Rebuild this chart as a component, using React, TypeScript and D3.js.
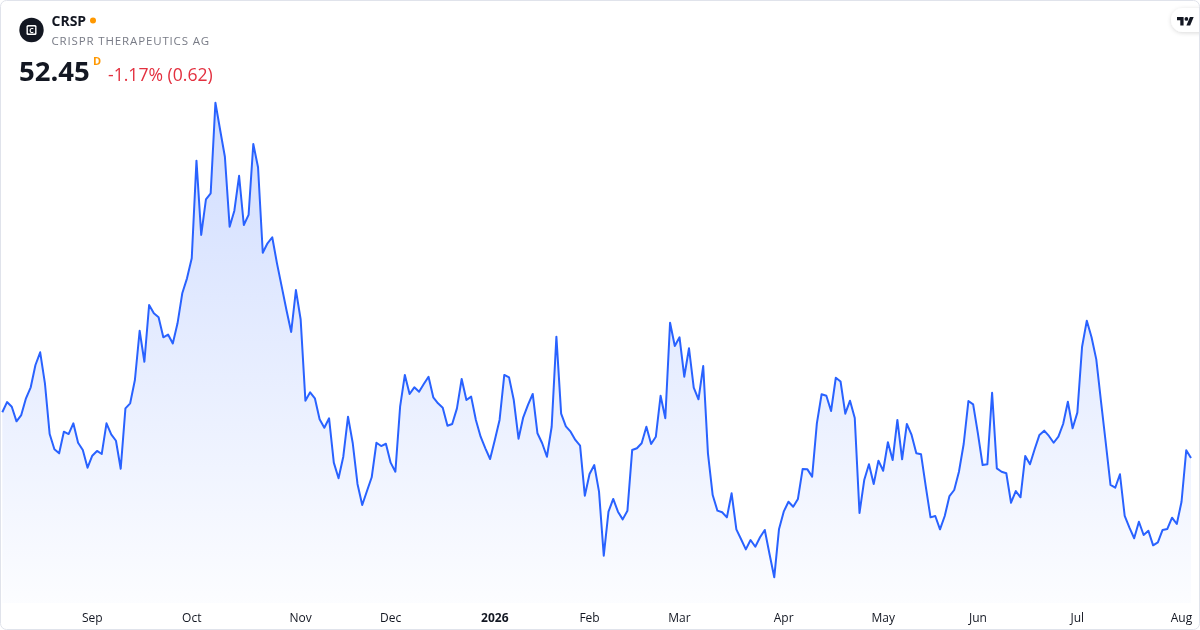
import React from "react";
import * as d3 from "d3";

// ---- data -------------------------------------------------------------
const ticker = "CRSP";
const companyName = "CRISPR THERAPEUTICS AG";
const lastPrice = "52.45";
const changeText = "-1.17% (0.62)";
const intervalLabel = "D";

const startDate = "2025-08-05";
const marketHolidays = [
  "2025-09-01", "2025-11-27", "2025-12-25", "2026-01-01", "2026-01-19",
  "2026-02-16", "2026-04-03", "2026-05-25", "2026-06-19", "2026-07-03",
];

const closes = [
  56.08, 56.89, 56.52, 55.36, 55.86, 57.19, 58.06, 59.83, 60.84, 58.38,
  54.35, 53.14, 52.82, 54.54, 54.35, 55.20, 53.66, 53.08, 51.68, 52.63,
  53.01, 52.77, 55.20, 54.33, 53.82, 51.60, 56.39, 56.79, 58.64, 62.55,
  60.09, 64.59, 63.93, 63.62, 62.03, 62.25, 61.54, 63.14, 65.52, 66.71,
  68.30, 76.05, 70.15, 72.98, 73.46, 80.65, 78.48, 76.36, 70.81, 72.08,
  74.85, 70.94, 71.74, 77.37, 75.52, 68.74, 69.49, 69.97, 67.90, 66.05,
  64.20, 62.45, 65.78, 63.44, 57.00, 57.66, 57.19, 55.52, 54.85, 55.60,
  52.08, 50.84, 52.55, 55.73, 53.62, 50.39, 48.72, 49.83, 50.92, 53.66,
  53.40, 53.58, 52.08, 51.36, 56.52, 59.04, 57.53, 58.06, 57.71, 58.32,
  58.90, 57.27, 56.79, 56.44, 55.01, 55.15, 56.39, 58.72, 57.05, 57.32,
  55.47, 54.14, 53.22, 52.37, 53.88, 55.47, 59.04, 58.85, 57.05, 53.98,
  55.68, 56.66, 57.53, 54.41, 53.62, 52.55, 54.93, 62.08, 55.97, 54.96,
  54.54, 53.88, 53.43, 49.46, 51.18, 51.89, 49.78, 44.70, 48.19, 49.20,
  48.19, 47.58, 48.27, 53.08, 53.22, 53.62, 54.93, 53.56, 54.14, 57.39,
  55.60, 63.19, 61.34, 62.03, 58.90, 61.16, 58.03, 57.11, 59.75, 52.82,
  49.51, 48.27, 48.14, 47.74, 49.65, 46.79, 46.00, 45.20, 45.94, 45.41,
  46.16, 46.74, 44.83, 42.98, 46.79, 48.19, 48.98, 48.58, 49.20, 51.58,
  51.55, 50.97, 55.20, 57.51, 57.39, 56.18, 58.82, 58.52, 55.97, 57.00,
  55.62, 48.08, 50.70, 51.95, 50.39, 52.24, 51.44, 53.70, 52.29, 55.47,
  52.35, 55.15, 54.28, 52.82, 52.74, 50.17, 47.74, 47.85, 46.79, 47.85,
  49.43, 49.91, 51.36, 53.56, 56.97, 56.71, 54.41, 51.89, 51.95, 57.63,
  51.63, 51.36, 51.24, 48.90, 49.83, 49.33, 52.61, 51.95, 53.16, 54.28,
  54.62, 54.20, 53.66, 54.14, 55.15, 56.92, 54.81, 56.05, 61.28, 63.35,
  62.03, 60.28, 56.92, 53.66, 50.31, 50.09, 51.16, 47.85, 46.92, 46.08,
  47.39, 46.34, 46.68, 45.52, 45.76, 46.74, 46.82, 47.71, 47.21, 48.98,
  53.07, 52.45,
];

// trading calendar (weekdays minus holidays)
const parse = d3.timeParse("%Y-%m-%d");
const fmtKey = d3.timeFormat("%Y-%m-%d");
const holidaySet = new Set(marketHolidays);
function buildTradingDays(start: string, n: number): Date[] {
  const out: Date[] = [];
  let d = parse(start) as Date;
  while (out.length < n) {
    const wd = d.getDay();
    if (wd !== 0 && wd !== 6 && !holidaySet.has(fmtKey(d))) out.push(d);
    d = d3.timeDay.offset(d, 1);
  }
  return out;
}
const dates = buildTradingDays(startDate, closes.length);

// ---- layout ------------------------------------------------------------
const W = 1200;
const H = 630;
const FONT = "'Open Sans', 'Noto Sans', sans-serif";

export default function App() {
  const x = d3.scaleLinear().domain([0, closes.length - 1]).range([2.3, 1191]);
  const y = d3.scaleLinear().domain([40, 80]).range([614.87, 110.87]);
  const paneBottom = 603;

  const line = d3
    .line<number>()
    .x((_, i) => x(i))
    .y((v) => y(v));
  const area = d3
    .area<number>()
    .x((_, i) => x(i))
    .y0(paneBottom)
    .y1((v) => y(v));

  // month ticks: first trading day of each month (skip partial first month)
  const ticks: { i: number; label: string; bold: boolean }[] = [];
  dates.forEach((d, i) => {
    if (i === 0) return;
    if (d.getMonth() !== dates[i - 1].getMonth()) {
      const isYear = d.getMonth() === 0;
      ticks.push({
        i,
        label: isYear ? d3.timeFormat("%Y")(d) : d3.timeFormat("%b")(d),
        bold: isYear,
      });
    }
  });

  const maxV = d3.max(closes) as number;

  return (
    <div style={{ position: "fixed", left: 0, top: 0, width: W, height: H }}>
      <svg width={W} height={H} style={{ display: "block", fontFamily: FONT }}>
        <defs>
          <linearGradient id="areaGrad" gradientUnits="userSpaceOnUse" x1="0" x2="0" y1={y(maxV)} y2={paneBottom}>
            <stop offset="0" stopColor="#2962ff" stopOpacity={0.22} />
            <stop offset="1" stopColor="#2962ff" stopOpacity={0.015} />
          </linearGradient>
          <filter id="pillShadow" x="-50%" y="-50%" width="200%" height="200%">
            <feDropShadow dx="0" dy="1" stdDeviation="2" floodColor="#000" floodOpacity="0.15" />
          </filter>
          <clipPath id="card">
            <rect x={0.5} y={0.5} width={W - 1} height={H - 1} rx={6} />
          </clipPath>
        </defs>

        <rect x={0.5} y={0.5} width={W - 1} height={H - 1} rx={6} fill="#ffffff" />

        <g clipPath="url(#card)">
          <path d={area(closes) || ""} fill="url(#areaGrad)" />
          <path d={line(closes) || ""} fill="none" stroke="#2962ff" strokeWidth={2} strokeLinejoin="round" />
        </g>

        {/* x axis labels */}
        <g>
          {ticks.map((t) => (
            <text
              key={t.i}
              x={x(t.i)}
              y={622}
              textAnchor="middle"
              fontSize={12}
              fontWeight={t.bold ? 700 : 400}
              fill="#131722"
            >
              {t.label}
            </text>
          ))}
        </g>

        {/* header */}
        <g>
          <circle cx={31.5} cy={30} r={12.2} fill="#131722" />
          <rect x={26.5} y={25} width={10} height={10} rx={1.5} fill="#ffffff" />
          <rect x={27.9} y={26.4} width={7.2} height={7.2} rx={0.8} fill="#131722" />
          <text x={31.5} y={32.9} textAnchor="middle" fontSize={7} fontWeight={700} fill="#ffffff">C</text>

          <text x={51.5} y={26} fontSize={14} fontWeight={700} fill="#131722">{ticker}</text>
          <circle cx={93} cy={20.5} r={3} fill="#ff9800" />
          <text x={51.5} y={44.7} fontSize={11.5} fill="#787b86" letterSpacing={0.85}>{companyName}</text>

          <text x={19} y={80.5} fontSize={27.5} fontWeight={700} fill="#131722">{lastPrice}</text>
          <text x={93} y={64.5} fontSize={11} fontWeight={700} fill="#ff9800">{intervalLabel}</text>
          <text x={108} y={81} fontSize={17.6} fill="#e3303f">{changeText}</text>
        </g>

        {/* TradingView badge */}
        <g>
          <rect x={1171} y={8} width={44} height={24} rx={12} fill="#ffffff" filter="url(#pillShadow)" />
          <g transform="translate(1177,15.2) scale(0.47)" fill="#131722">
            <path d="M14 22H7V11H0V4h14v18z" />
            <path d="M28 22h-8l7.5-18h8L28 22z" />
            <circle cx={20} cy={8} r={4} />
          </g>
        </g>

        <rect x={0.5} y={0.5} width={W - 1} height={H - 1} rx={6} fill="none" stroke="#e0e3eb" />
      </svg>
    </div>
  );
}
